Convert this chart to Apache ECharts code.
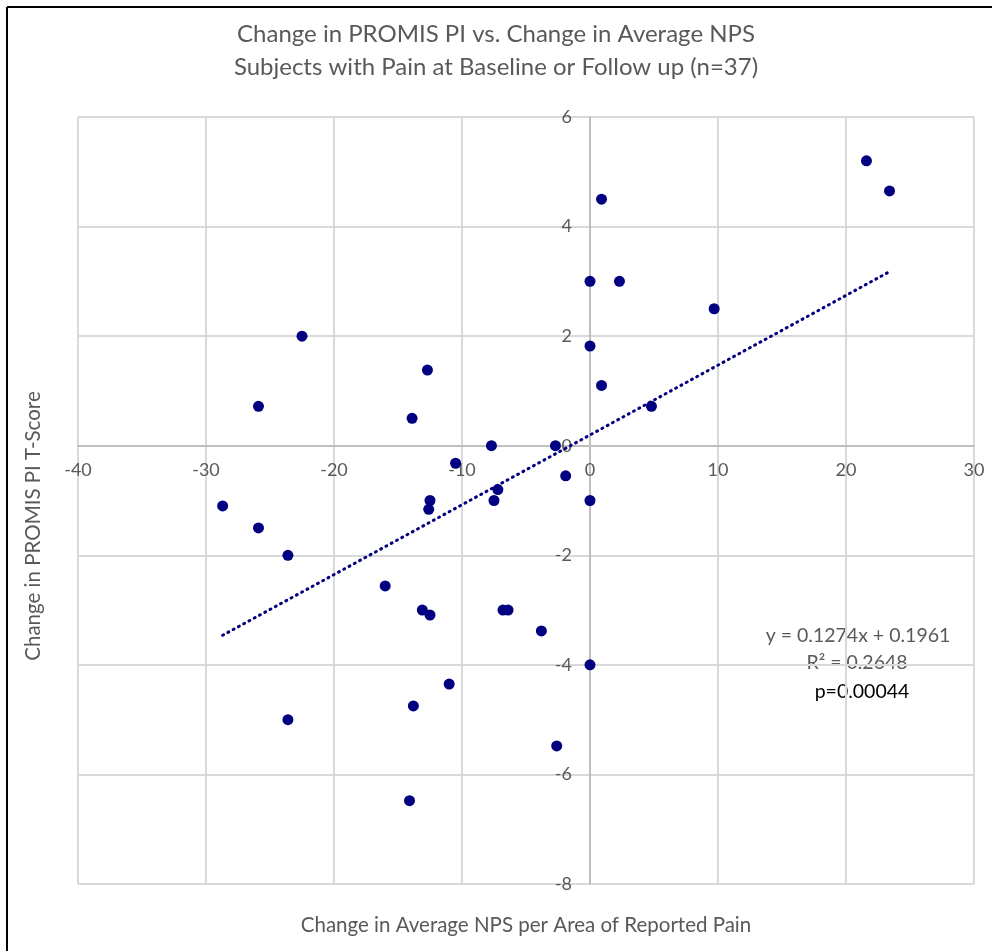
<!DOCTYPE html>
<html>
<head>
<meta charset="utf-8">
<script src="https://cdn.jsdelivr.net/npm/echarts@6/dist/echarts.min.js"></script>
<style>html,body{margin:0;padding:0;background:#fff}#c{width:992px;height:951px}</style>
</head>
<body>
<div id="c"></div>
<script>
var npsChange = [21.6, 23.4, 0.9, 0, 2.3, 9.7, 0, 0.9, 4.8, -22.5, -25.9, -12.7, -13.9, -7.7, -2.7, -10.5, -1.9, -7.2, -7.5, 0, -12.5, -12.6, -28.7, -25.9, -23.6, -16.0, -13.1, -12.5, -6.8, -6.4, -3.8, 0, -11.0, -23.6, -13.8, -2.6, -14.1];
var piChange  = [5.2, 4.65, 4.5, 3.0, 3.0, 2.5, 1.82, 1.1, 0.72, 2.0, 0.72, 1.38, 0.5, 0, 0, -0.32, -0.55, -0.8, -1.0, -1.0, -1.0, -1.16, -1.1, -1.5, -2.0, -2.56, -3.0, -3.09, -3.0, -3.0, -3.38, -4.0, -4.35, -5.0, -4.75, -5.48, -6.48];
var slope = 0.1274, intercept = 0.1961;
var titleLines = ['Change in PROMIS PI vs. Change in Average NPS', 'Subjects with Pain at Baseline or Follow up (n=37)'];
var xName = 'Change in Average NPS per Area of Reported Pain';
var yName = 'Change in PROMIS PI T-Score';
var eqLines = ['y = 0.1274x + 0.1961', 'R\u00b2 = 0.2648', 'p=0.00044'];

var points = npsChange.map(function (x, i) { return [x, piChange[i]]; });
var xMin = Math.min.apply(null, npsChange), xMax = Math.max.apply(null, npsChange);
var trend = [[xMin, slope * xMin + intercept], [xMax, slope * xMax + intercept]];

var X_MIN = -40, X_MAX = 30, Y_MIN = -8, Y_MAX = 6;
var G_LEFT = 78, G_RIGHT = 18, G_TOP = 117, G_BOTTOM = 67;
var W = 992, H = 951;
var plotW = W - G_LEFT - G_RIGHT, plotH = H - G_TOP - G_BOTTOM;
// move axes to cross at zero (label follows the line)
var xAxisOffset = -plotH * (0 - Y_MIN) / (Y_MAX - Y_MIN);
var yAxisOffset = -plotW * (0 - X_MIN) / (X_MAX - X_MIN);

var FONT = 'Lato';
var chart = echarts.init(document.getElementById('c'));
chart.setOption({
  animation: false,
  textStyle: { fontFamily: FONT },
  title: {
    text: titleLines.join('\n'),
    left: 'center', top: 13,
    textStyle: { fontFamily: FONT, fontSize: 24, fontWeight: 'normal', color: '#595959', lineHeight: 33 }
  },
  grid: { left: G_LEFT, right: G_RIGHT, top: G_TOP, bottom: G_BOTTOM, containLabel: false },
  xAxis: {
    type: 'value', min: X_MIN, max: X_MAX, interval: 10,
    offset: xAxisOffset,
    axisLine: { onZero: false, lineStyle: { color: '#bfbfbf', width: 2 } },
    axisTick: { show: false },
    axisLabel: { color: '#595959', fontSize: 18, margin: 15, fontFamily: FONT },
    splitLine: { show: true, lineStyle: { color: '#d9d9d9', width: 2 } }
  },
  yAxis: {
    type: 'value', min: Y_MIN, max: Y_MAX, interval: 2,
    offset: yAxisOffset,
    axisLine: { onZero: false, show: true, lineStyle: { color: '#bfbfbf', width: 2 } },
    axisTick: { show: false },
    axisLabel: { color: '#595959', fontSize: 18, margin: 18, fontFamily: FONT },
    splitLine: { show: true, lineStyle: { color: '#d9d9d9', width: 2 } }
  },
  series: [
    {
      type: 'line', data: trend, symbol: 'none', silent: true, z: 3,
      lineStyle: { color: '#000080', width: 3, type: [1, 5], cap: 'round' }
    },
    {
      type: 'scatter', data: points, symbol: 'circle', symbolSize: 11, z: 4,
      itemStyle: { color: '#000080', opacity: 1 }
    }
  ],
  graphic: [
    { type: 'line', shape: { x1: 7, y1: 7, x2: 992, y2: 7 }, style: { stroke: '#000', lineWidth: 2 } },
    { type: 'line', shape: { x1: 7, y1: 7, x2: 7, y2: 951 }, style: { stroke: '#000', lineWidth: 2 } },
    { type: 'text', x: 526, y: 925, style: { text: xName, font: '20.5px ' + FONT, fill: '#595959', textAlign: 'center', textVerticalAlign: 'middle' } },
    { type: 'text', x: 33, y: 526, rotation: Math.PI / 2, style: { text: yName, font: '20.5px ' + FONT, fill: '#595959', textAlign: 'center', textVerticalAlign: 'middle' } },
    { type: 'text', x: 858, y: 636, style: { text: eqLines[0], font: '19.5px ' + FONT, fill: '#595959', textAlign: 'center', textVerticalAlign: 'middle' } },
    { type: 'text', x: 857, y: 663, style: { text: eqLines[1], font: '19.5px ' + FONT, fill: '#595959', textAlign: 'center', textVerticalAlign: 'middle' } },
    { type: 'text', x: 862, y: 692, style: { text: eqLines[2], font: '19.5px ' + FONT, fill: '#000', textAlign: 'center', textVerticalAlign: 'middle' } }
  ]
});
</script>
</body>
</html>
